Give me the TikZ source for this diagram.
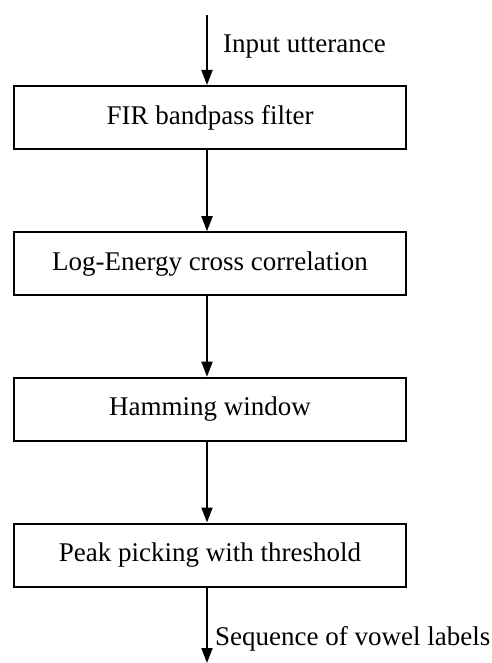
\documentclass[tikz,border=0pt]{standalone}
\usepackage{fontspec}
\setmainfont{Liberation Serif}
\usetikzlibrary{arrows.meta}
\begin{document}
\begin{tikzpicture}[x=1pt,y=-1pt,
  stage/.style={draw, line width=2pt, minimum width=392.6pt, minimum height=63pt,
    inner sep=0pt, font=\fontsize{27}{32}\selectfont, anchor=center},
  flow/.style={-{Triangle[length=15pt,width=11pt]}, line width=2pt},
  lbl/.style={font=\fontsize{27}{32}\selectfont, anchor=base west, inner sep=0pt}]
\useasboundingbox (0,0) rectangle (491,663);

% processing stages
\node[stage] (fir) at (210,117.5) {FIR bandpass filter};
\node[stage] (loge) at (210,263.7) {Log-Energy cross correlation};
\node[stage] (ham) at (210,409.2) {Hamming window};
\node[stage] (peak) at (210,555) {Peak picking with threshold};

% signal path column and free ends
\coordinate (col) at (207,0);
\coordinate (src) at (207,15);
\coordinate (out) at (207,663);

\draw[flow] (src) -- (fir.north -| col);
\draw[flow] (fir.south -| col) -- (loge.north -| col);
\draw[flow] (loge.south -| col) -- (ham.north -| col);
\draw[flow] (ham.south -| col) -- (peak.north -| col);
\draw[flow] (peak.south -| col) -- (out);

% input and output labels
\node[lbl] (inlbl) at (223,53) {Input utterance};
\node[lbl] (outlbl) at (215,645) {Sequence of vowel labels};
\end{tikzpicture}
\end{document}
